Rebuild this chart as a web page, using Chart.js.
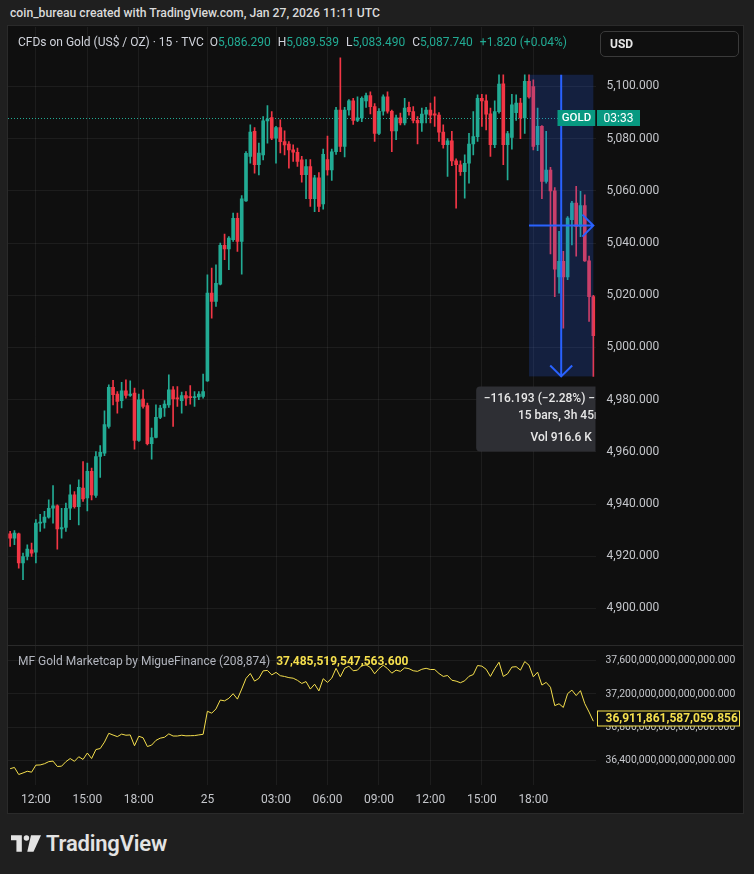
<!DOCTYPE html>
<html>
<head>
<meta charset="utf-8">
<title>CFDs on Gold 15m</title>
<script src="https://cdn.jsdelivr.net/npm/chart.js@4.4.1/dist/chart.umd.min.js"></script>
<style>
  body { margin: 0; width: 754px; height: 874px; background: #1f1f1f; position: relative; overflow: hidden;
         font-family: Roboto, 'Liberation Sans', sans-serif; }
  #title { position: absolute; left: 10px; top: 6px; color: #dadada; font-size: 12.2px; font-weight: 500; }
  #frame { position: absolute; left: 8px; top: 26px; width: 735px; height: 787px; background: #0f0f0f;
           box-shadow: 0 0 0 1px #2a2a2a; }
  #frame canvas { position: absolute; left: 0; }
  #priceChart { top: 1px; }
  #capChart { top: 620px; }
  #sep { position: absolute; left: 0; top: 619px; width: 735px; height: 1px; background: #2a2a2a; }
  #legend { position: absolute; left: 10px; top: 9px; font-size: 12px; color: #d1d4dc; white-space: nowrap; }
  #legend .v { color: #22ab94; margin-right: 7px; }
  #usd { position: absolute; left: 592px; top: 5px; width: 139px; height: 26px; border: 1px solid #3a3a3a;
         border-radius: 5px; color: #e6e6e6; font-size: 12px; font-weight: 700; line-height: 25px;
         box-sizing: border-box; padding-left: 9px; }
  #capLegend { position: absolute; left: 10px; top: 628px; font-size: 12px; color: #b2b5be; white-space: nowrap; }
  #capLegend b { color: #f5df4d; margin-left: 6px; }
  #logo { position: absolute; left: 11px; top: 831px; display: flex; align-items: center; color: #e3e3e3;
          font-size: 22px; font-weight: 600; letter-spacing: -0.2px; }
  #logo svg { margin-right: 5px; }
</style>
</head>
<body>
<div id="title">coin_bureau created with TradingView.com, Jan 27, 2026 11:11 UTC</div>
<div id="frame">
  <canvas id="priceChart" width="735" height="619"></canvas>
  <canvas id="capChart" width="735" height="167"></canvas>
  <div id="sep"></div>
  <div id="legend">CFDs on Gold (US$ / OZ) · 15 · TVC &nbsp;O<span class="v">5,086.290</span>H<span class="v">5,089.539</span>L<span class="v">5,083.490</span>C<span class="v">5,087.740</span><span class="v">+1.820 (+0.04%)</span></div>
  <div id="usd">USD</div>
  <div id="capLegend">MF Gold Marketcap by MigueFinance (208,874)<b>37,485,519,547,563.600</b></div>
</div>
<div id="logo">
  <svg width="30" height="17" viewBox="0 0 36 20">
    <path d="M0 0H13V20H6.5V6H0Z" fill="#e3e3e3"/>
    <circle cx="18.5" cy="3.3" r="3.3" fill="#e3e3e3"/>
    <path d="M24 0H36L27 20H19.5Z" fill="#e3e3e3"/>
  </svg>
  TradingView
</div>

<script>
// 15-minute bars: Friday session, then Sunday-night reopen
const sessionStarts = ['2026-01-23T10:30:00Z', '2026-01-25T23:00:00Z'];
const sessionBars = [46, 91];

const opens = [
  4928.6, 4926.9, 4928.6, 4917.4, 4919.9, 4922.5, 4921.6, 4932.7, 4933.0, 4935.0,
  4938.4, 4939.3, 4930.5, 4931.0, 4938.4, 4943.5, 4939.0, 4946.1, 4942.3, 4952.5,
  4943.3, 4958.2, 4959.5, 4969.7, 4984.7, 4982.1, 4979.6, 4983.4, 4981.6, 4982.5,
  4964.4, 4980.2, 4977.7, 4963.1, 4965.5, 4973.2, 4976.8, 4978.0, 4983.8, 4980.6,
  4979.6, 4981.6, 4980.9, 4980.8, 4981.0, 4981.2,
  4987.2, 5020.8, 5017.6, 5024.3, 5039.1, 5037.8, 5041.3, 5049.5, 5040.6, 5056.2,
  5073.2, 5082.8, 5070.0, 5073.8, 5086.8, 5088.1, 5080.2, 5084.3, 5078.9, 5077.9,
  5075.7, 5074.8, 5071.9, 5066.2, 5069.3, 5057.0, 5065.0, 5055.0, 5072.0, 5068.0,
  5075.0, 5091.0, 5077.0, 5091.0, 5094.5, 5087.0, 5088.0, 5094.5, 5096.5, 5092.3,
  5082.0, 5090.5, 5096.0, 5090.5, 5083.0, 5088.0, 5086.0, 5092.0, 5090.4, 5087.0,
  5086.0, 5089.4, 5091.0, 5089.5, 5089.0, 5082.5, 5077.7, 5079.2, 5071.5, 5070.0,
  5067.4, 5070.6, 5078.0, 5080.8, 5095.5, 5094.5, 5089.5, 5077.7, 5090.4, 5101.0,
  5077.7, 5080.5, 5090.0, 5093.6, 5088.0, 5102.0, 5100.0, 5077.7, 5084.7, 5063.6,
  5068.0, 5060.0, 5027.0, 5033.0, 5027.0, 5049.0, 5055.3, 5046.4, 5054.4, 5033.2,
  5019.5
];
const highs = [
  4929.5, 4929.8, 4928.9, 4921.2, 4924.4, 4925.0, 4934.0, 4936.1, 4937.2, 4941.6,
  4947.1, 4939.7, 4938.4, 4940.4, 4947.4, 4944.8, 4949.3, 4956.3, 4955.7, 4953.8,
  4960.1, 4962.4, 4975.7, 4985.7, 4987.4, 4983.1, 4986.6, 4987.6, 4987.2, 4984.4,
  4982.1, 4983.8, 4978.7, 4969.1, 4978.0, 4977.8, 4979.6, 4989.5, 4985.0, 4985.0,
  4982.9, 4983.1, 4985.4, 4983.1, 4983.1, 4989.8,
  5027.8, 5030.4, 5031.7, 5040.0, 5043.4, 5042.5, 5051.5, 5051.5, 5058.2, 5075.1,
  5085.3, 5084.3, 5078.3, 5088.5, 5092.7, 5090.4, 5084.7, 5087.2, 5083.0, 5078.9,
  5077.6, 5076.4, 5073.2, 5072.0, 5072.0, 5066.0, 5067.0, 5076.0, 5081.0, 5076.0,
  5092.0, 5111.0, 5092.0, 5095.0, 5095.5, 5096.0, 5096.0, 5097.5, 5098.0, 5093.5,
  5091.5, 5096.8, 5098.0, 5091.0, 5089.0, 5089.8, 5095.5, 5094.0, 5092.3, 5088.5,
  5091.7, 5092.0, 5093.6, 5096.0, 5090.0, 5085.3, 5080.0, 5082.8, 5072.3, 5071.5,
  5073.8, 5082.1, 5090.4, 5096.8, 5097.0, 5096.8, 5091.7, 5094.5, 5104.5, 5104.5,
  5082.8, 5097.0, 5096.8, 5095.5, 5104.5, 5104.5, 5102.6, 5091.7, 5085.0, 5082.8,
  5069.0, 5061.3, 5044.5, 5036.8, 5050.2, 5056.0, 5061.7, 5059.8, 5058.5, 5035.0,
  5020.0
];
const lows = [
  4923.8, 4924.4, 4915.4, 4911.0, 4918.6, 4919.9, 4917.4, 4929.5, 4930.8, 4934.6,
  4932.7, 4922.7, 4926.9, 4929.5, 4934.0, 4938.4, 4932.0, 4941.0, 4937.4, 4941.6,
  4942.5, 4950.2, 4958.5, 4969.1, 4978.0, 4974.8, 4976.8, 4980.6, 4981.2, 4961.0,
  4964.0, 4976.7, 4962.7, 4957.2, 4965.3, 4972.7, 4973.6, 4977.0, 4969.7, 4977.4,
  4974.8, 4977.8, 4978.3, 4977.4, 4980.0, 4980.6,
  4987.0, 5011.2, 5015.7, 5024.0, 5033.6, 5029.8, 5040.6, 5036.8, 5028.1, 5056.0,
  5070.6, 5066.8, 5066.1, 5071.9, 5078.3, 5079.6, 5070.6, 5074.5, 5073.8, 5068.7,
  5071.3, 5069.4, 5063.3, 5057.0, 5054.0, 5052.0, 5052.0, 5053.0, 5066.0, 5064.0,
  5074.0, 5075.0, 5073.0, 5089.0, 5085.5, 5086.5, 5086.5, 5092.0, 5089.5, 5079.0,
  5081.5, 5089.0, 5089.8, 5075.0, 5079.6, 5085.3, 5085.3, 5089.0, 5086.0, 5078.0,
  5082.8, 5086.0, 5086.0, 5084.7, 5079.0, 5076.4, 5065.5, 5069.7, 5053.4, 5065.9,
  5057.2, 5063.0, 5073.8, 5079.0, 5084.7, 5083.4, 5073.2, 5076.6, 5089.8, 5070.0,
  5064.2, 5076.0, 5087.0, 5080.0, 5082.0, 5095.5, 5075.7, 5075.4, 5057.0, 5063.0,
  5035.8, 5019.5, 5020.8, 5007.4, 5026.0, 5039.3, 5035.0, 5042.5, 5033.0, 5010.0,
  4988.9
];
const closes = [
  4926.9, 4928.9, 4917.4, 4919.9, 4922.7, 4921.2, 4932.7, 4933.0, 4935.0, 4938.4,
  4939.3, 4930.5, 4931.0, 4938.4, 4943.5, 4939.0, 4946.4, 4942.0, 4952.5, 4943.5,
  4958.2, 4959.8, 4970.4, 4984.7, 4981.9, 4979.3, 4983.4, 4981.6, 4982.1, 4964.4,
  4979.9, 4977.4, 4963.1, 4965.5, 4973.2, 4976.8, 4978.3, 4983.8, 4980.3, 4980.3,
  4981.6, 4980.6, 4980.8, 4981.0, 4982.1, 4983.1,
  5020.8, 5017.6, 5024.6, 5039.1, 5037.8, 5041.9, 5049.5, 5040.6, 5057.0, 5074.4,
  5082.5, 5070.0, 5074.5, 5086.8, 5087.5, 5080.2, 5084.3, 5078.9, 5077.6, 5075.7,
  5074.8, 5071.3, 5066.2, 5069.3, 5057.0, 5065.0, 5054.0, 5074.0, 5068.0, 5075.0,
  5091.0, 5077.0, 5091.0, 5094.5, 5087.0, 5088.0, 5095.5, 5096.5, 5092.3, 5082.0,
  5090.5, 5096.0, 5090.5, 5083.0, 5088.0, 5086.0, 5091.7, 5090.4, 5087.0, 5086.0,
  5089.4, 5091.0, 5089.0, 5089.0, 5082.5, 5077.7, 5079.2, 5071.5, 5070.0, 5067.4,
  5070.6, 5077.9, 5080.8, 5095.5, 5094.5, 5089.4, 5077.7, 5090.4, 5100.9, 5077.7,
  5082.0, 5093.0, 5093.6, 5088.0, 5102.0, 5096.0, 5077.0, 5084.7, 5063.6, 5068.0,
  5060.0, 5030.0, 5033.0, 5027.0, 5049.6, 5055.3, 5046.4, 5054.4, 5033.2, 5019.5,
  5004.5
];

const priceTicks = [4900, 4920, 4940, 4960, 4980, 5000, 5020, 5040, 5060, 5080, 5100];
const timeTicks = ['2026-01-23 12:00', '2026-01-23 15:00', '2026-01-23 18:00', '2026-01-25 23:00',
  '2026-01-26 03:00', '2026-01-26 06:00', '2026-01-26 09:00', '2026-01-26 12:00', '2026-01-26 15:00', '2026-01-26 18:00'];
const timeTickText = ['12:00', '15:00', '18:00', '25', '03:00', '06:00', '09:00', '12:00', '15:00', '18:00'];

const currentPrice = 5087.74;
const countdown = '03:33';

// indicator: gold price x above-ground ounces (in trillions of USD)
const goldOunces = 7.367814e9;
const capTicks = [36.4, 36.8, 37.2, 37.6];
const capTickText = ['36,400,000,000,000,000.000', '36,800,000,000,000,000.000', '37,200,000,000,000,000.000', '37,600,000,000,000,000.000'];
const capLastValue = 36.911861587059856;
const capLastText = '36,911,861,587,059.856';

// price range tool
const rangeFrom = 121, rangeTo = 136;
const rangeLines = ['\u2212116.193 (\u22122.28%) \u2212116,193', '15 bars, 3h 45m', 'Vol 916.6 K'];

const upColor = '#22ab94', downColor = '#f23645';
const gridColor = 'rgba(255,255,255,0.06)';
const axisText = '#c5c7cc';
const capColor = '#f5df4d';

const times = [];
sessionStarts.forEach((s, k) => {
  const t0 = Date.parse(s);
  for (let i = 0; i < sessionBars[k]; i++) {
    times.push(new Date(t0 + i * 900000).toISOString().slice(0, 16).replace('T', ' '));
  }
});
const isTimeTick = i => timeTicks.includes(times[i]);

const barColors = closes.map((c, i) => c >= opens[i] ? upColor : downColor);
const capSeries = closes.map(c => c * goldOunces / 1e12);

const fmtPrice = v => v.toLocaleString('en-US', { minimumFractionDigits: 3, maximumFractionDigits: 3 });

// keep the plot area flush with the pane edges
const flushY = s => { s.width = 147.5; s.paddingTop = 0; s.paddingBottom = 0; };

const priceOverlay = {
  id: 'priceOverlay',
  beforeDatasetsDraw(chart) {
    const { ctx, chartArea: a, scales: { y } } = chart;
    const py = Math.round(y.getPixelForValue(currentPrice)) + 0.5;
    ctx.save();
    ctx.strokeStyle = upColor;
    ctx.lineWidth = 1;
    ctx.setLineDash([1, 2]);
    ctx.beginPath();
    ctx.moveTo(a.left, py);
    ctx.lineTo(a.right, py);
    ctx.stroke();
    ctx.restore();
  },
  afterDatasetsDraw(chart) {
    const { ctx, chartArea: a, scales: { x, y } } = chart;
    const hi = Math.max(...highs.slice(rangeFrom, rangeTo + 1));
    const lo = Math.min(...lows.slice(rangeFrom, rangeTo + 1));
    const xl = x.getPixelForValue(rangeFrom), xr = x.getPixelForValue(rangeTo);
    const yt = y.getPixelForValue(hi), yb = y.getPixelForValue(lo);
    const xm = (xl + xr) / 2, ym = (yt + yb) / 2;

    ctx.save();
    ctx.beginPath();
    ctx.rect(a.left, a.top, a.width, a.height);
    ctx.clip();

    ctx.fillStyle = 'rgba(41,98,255,0.2)';
    ctx.fillRect(xl, yt, xr - xl, yb - yt);

    ctx.strokeStyle = '#2962ff';
    ctx.lineWidth = 2;
    ctx.beginPath();
    ctx.moveTo(xm, yt); ctx.lineTo(xm, yb);
    ctx.moveTo(xm - 11, yb - 11); ctx.lineTo(xm, yb); ctx.lineTo(xm + 11, yb - 11);
    ctx.moveTo(xl, ym); ctx.lineTo(xr, ym);
    ctx.moveTo(xr - 11, ym - 11); ctx.lineTo(xr, ym); ctx.lineTo(xr - 11, ym + 11);
    ctx.stroke();

    // info box under the range
    const bw = 170, bh = 65, bx = xm - bw / 2, by = yb + 10;
    ctx.fillStyle = 'rgba(48,49,54,0.96)';
    ctx.beginPath();
    ctx.roundRect(bx, by, bw, bh, 4);
    ctx.fill();
    ctx.fillStyle = '#e8e8e8';
    ctx.font = '500 12px Roboto';
    ctx.textAlign = 'center';
    ctx.textBaseline = 'middle';
    ctx.fillText(rangeLines[0], xm, by + 12.5);
    ctx.fillText(rangeLines[1], xm, by + 30);
    ctx.fillText(rangeLines[2], xm, by + 52);

    // symbol label on the last-price line
    const py = Math.round(y.getPixelForValue(currentPrice));
    ctx.fillStyle = '#089981';
    ctx.fillRect(a.right - 38, py - 8, 38, 16);
    ctx.fillStyle = '#ffffff';
    ctx.font = '500 11.5px Roboto';
    ctx.fillText('GOLD', a.right - 19, py + 0.5);
    ctx.restore();
  },
  afterDraw(chart) {
    const { ctx, chartArea: a, scales: { y } } = chart;
    const py = Math.round(y.getPixelForValue(currentPrice));
    ctx.save();
    ctx.fillStyle = '#089981';
    ctx.fillRect(a.right + 1.5, py - 8, 43, 16);
    ctx.fillStyle = '#ffffff';
    ctx.font = '12px Roboto';
    ctx.textAlign = 'center';
    ctx.textBaseline = 'middle';
    ctx.fillText(countdown, a.right + 23, py + 0.5);
    ctx.restore();
  }
};

new Chart(document.getElementById('priceChart'), {
  type: 'bar',
  data: {
    labels: times,
    datasets: [
      {
        data: highs.map((h, i) => [lows[i], h]),
        backgroundColor: barColors,
        barThickness: 1,
        grouped: false,
        order: 2
      },
      {
        data: opens.map((o, i) => [o, closes[i]]),
        backgroundColor: barColors,
        barThickness: 3,
        minBarLength: 1,
        grouped: false,
        order: 1
      }
    ]
  },
  options: {
    responsive: false,
    animation: false,
    layout: { padding: 0 },
    plugins: { legend: { display: false }, tooltip: { enabled: false } },
    scales: {
      x: {
        offset: true,
        ticks: { display: false },
        grid: { offset: false, drawTicks: false, color: c => isTimeTick(c.index) ? gridColor : 'transparent' },
        border: { display: false },
        afterFit: s => { s.height = 0; s.paddingLeft = 0; s.paddingRight = 0; }
      },
      y: {
        position: 'right',
        min: 4885.6,
        max: 5122.8,
        afterBuildTicks: s => { s.ticks = priceTicks.map(v => ({ value: v })); },
        afterFit: flushY,
        grid: { drawTicks: false, color: gridColor },
        border: { display: false },
        ticks: { color: axisText, padding: 11, font: { family: 'Roboto', size: 12 }, callback: v => fmtPrice(v) }
      }
    }
  },
  plugins: [priceOverlay]
});

const capOverlay = {
  id: 'capOverlay',
  afterDraw(chart) {
    const { ctx, chartArea: a, scales: { y } } = chart;
    const py = Math.round(y.getPixelForValue(capLastValue)) + 0.5;
    ctx.save();
    ctx.fillStyle = '#0f0f0f';
    ctx.fillRect(a.right + 2, py - 7.5, 142, 15);
    ctx.strokeStyle = capColor;
    ctx.lineWidth = 1;
    ctx.strokeRect(a.right + 2, py - 7.5, 142, 15);
    ctx.fillStyle = capColor;
    ctx.font = 'bold 12px Roboto';
    ctx.textBaseline = 'middle';
    ctx.fillText(capLastText, a.right + 10, py + 0.5);
    ctx.restore();
  }
};

new Chart(document.getElementById('capChart'), {
  type: 'line',
  data: {
    labels: times,
    datasets: [{ data: capSeries, borderColor: capColor, borderWidth: 1, pointRadius: 0, tension: 0 }]
  },
  options: {
    responsive: false,
    animation: false,
    layout: { padding: 0 },
    plugins: { legend: { display: false }, tooltip: { enabled: false } },
    scales: {
      x: {
        offset: true,
        grid: { offset: false, drawTicks: false, color: c => isTimeTick(c.index) ? gridColor : 'transparent' },
        border: { display: false },
        ticks: {
          autoSkip: false, maxRotation: 0, padding: 8, color: axisText, font: { family: 'Roboto', size: 12 },
          callback: (v, i) => { const k = timeTicks.indexOf(times[i]); return k < 0 ? '' : timeTickText[k]; }
        },
        afterFit: s => { s.height = 28; s.paddingLeft = 0; s.paddingRight = 0; }
      },
      y: {
        position: 'right',
        min: 36.104,
        max: 37.778,
        afterBuildTicks: s => { s.ticks = capTicks.map(v => ({ value: v })); },
        afterFit: flushY,
        grid: { drawTicks: false, color: gridColor },
        border: { display: false },
        ticks: { color: axisText, padding: 10, font: { family: 'Roboto', size: 10.4 }, callback: (v, i) => capTickText[i] }
      }
    }
  },
  plugins: [capOverlay]
});
</script>
</body>
</html>
